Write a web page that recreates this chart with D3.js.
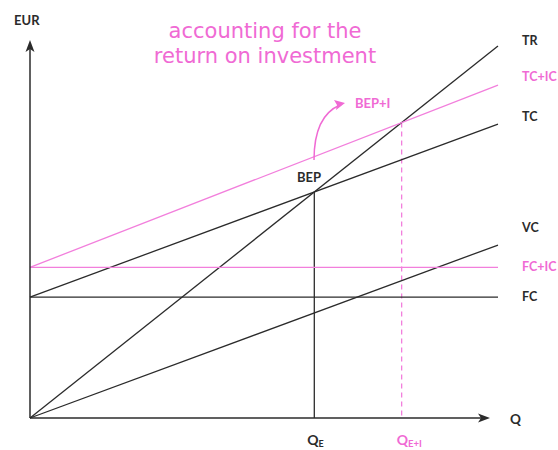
<!DOCTYPE html>
<html>
<head>
<meta charset="utf-8">
<script src="https://cdn.jsdelivr.net/npm/d3@7"></script>
<style>
  html, body { margin: 0; padding: 0; background: #fff; }
  svg { display: block; }
</style>
</head>
<body>
<svg id="chart" width="558" height="450"></svg>
<script>
// Quantity domain shared by every line (start and end of each segment)
const qPoints = [0, 10];
// EUR values at q = 0 and q = 10
const trValues   = [0, 100];
const tcValues   = [32.5, 79];
const tcIcValues = [40.5, 89.5];
const vcValues   = [0, 46.5];
const fcValues   = [32.5, 32.5];
const fcIcValues = [40.5, 40.5];
// Right-hand line labels
const lineNames  = ["TR", "TC+IC", "TC", "VC", "FC+IC", "FC"];
const titleLines = ["accounting for the", "return on investment"];

const PINK = "#f06ad4";
const PINK_LINE = "#f27fdc";
const DARK = "#2b2b2b";

const svg = d3.select("#chart");
const x = d3.scaleLinear().domain([0, 10]).range([30, 498]);
const y = d3.scaleLinear().domain([0, 100]).range([418, 46]);

const lineValues = [trValues, tcIcValues, tcValues, vcValues, fcIcValues, fcValues];
const pinkLines = new Set(["TC+IC", "FC+IC"]);
const series = lineNames.map((name, i) => ({
  name: name,
  vals: lineValues[i],
  color: pinkLines.has(name) ? PINK_LINE : DARK,
  label: pinkLines.has(name) ? PINK : DARK
}));

// Intersection of two linear series
function intersect(a, b) {
  const sa = (a[1] - a[0]) / (qPoints[1] - qPoints[0]);
  const sb = (b[1] - b[0]) / (qPoints[1] - qPoints[0]);
  const q = (b[0] - a[0]) / (sa - sb);
  return { q: q, v: a[0] + sa * q };
}
const bep = intersect(trValues, tcValues);
const bepI = intersect(trValues, tcIcValues);

// Guide lines down to the quantity axis
svg.append("line")
  .attr("x1", x(bep.q)).attr("x2", x(bep.q))
  .attr("y1", y(bep.v)).attr("y2", y(0))
  .attr("stroke", DARK).attr("stroke-width", 1.3);
svg.append("line")
  .attr("x1", x(bepI.q)).attr("x2", x(bepI.q))
  .attr("y1", y(bepI.v)).attr("y2", y(0))
  .attr("stroke", PINK_LINE).attr("stroke-width", 1.3)
  .attr("stroke-dasharray", "5,4");

// Cost and revenue lines
const lineGen = d3.line().x((d, i) => x(qPoints[i])).y(d => y(d));
svg.selectAll("path.series")
  .data(series)
  .join("path")
  .attr("class", "series")
  .attr("d", d => lineGen(d.vals))
  .attr("fill", "none")
  .attr("stroke", d => d.color)
  .attr("stroke-width", 1.3);

// Axes with arrowheads
const ax = svg.append("g").attr("stroke", DARK).attr("stroke-width", 1.5);
ax.append("line").attr("x1", x(0)).attr("x2", 486).attr("y1", y(0)).attr("y2", y(0));
ax.append("line").attr("x1", x(0)).attr("x2", x(0)).attr("y1", y(0)).attr("y2", 44);
svg.append("path")
  .attr("d", `M490,${y(0)} L478,${y(0) - 4.5} L481,${y(0)} L478,${y(0) + 4.5} Z`)
  .attr("fill", DARK);
svg.append("path")
  .attr("d", `M${x(0)},40 L${x(0) - 4.5},52 L${x(0)},49 L${x(0) + 4.5},52 Z`)
  .attr("fill", DARK);

const labelFont = "Lato, 'Open Sans', sans-serif";

// Axis names
svg.append("text").attr("x", 14).attr("y", 25).text("EUR")
  .attr("font-family", labelFont).attr("font-weight", 700).attr("font-size", 13).attr("fill", DARK);
svg.append("text").attr("x", 510).attr("y", 424).text("Q")
  .attr("font-family", labelFont).attr("font-weight", 700).attr("font-size", 13.5).attr("fill", DARK);

// Right-hand labels
const labelOffsets = { "TR": -1, "TC+IC": -4, "TC": -3, "VC": -13, "FC+IC": 4, "FC": 4 };
svg.selectAll("text.name")
  .data(series)
  .join("text")
  .attr("class", "name")
  .attr("x", 522)
  .attr("y", d => y(d.vals[1]) + labelOffsets[d.name])
  .attr("font-family", labelFont).attr("font-weight", 700).attr("font-size", 12.5)
  .attr("fill", d => d.label)
  .text(d => d.name);

// Break-even labels
svg.append("text").attr("x", 297).attr("y", 182).text("BEP")
  .attr("font-family", labelFont).attr("font-weight", 700).attr("font-size", 13).attr("fill", DARK);
svg.append("text").attr("x", 355).attr("y", 108).text("BEP+I")
  .attr("font-family", labelFont).attr("font-weight", 700).attr("font-size", 13).attr("fill", PINK);

// Curved arrow from BEP towards BEP+I
svg.append("path")
  .attr("d", "M314,160 Q314,116 340,105")
  .attr("fill", "none").attr("stroke", PINK).attr("stroke-width", 1.5);
svg.append("path")
  .attr("d", "M345,103 L334,100 L337,105 L336,110 Z")
  .attr("fill", PINK);

// Quantity markers
const qe = svg.append("text").attr("x", x(bep.q) - 7).attr("y", 445)
  .attr("font-family", labelFont).attr("font-weight", 700).attr("font-size", 14).attr("fill", DARK);
qe.append("tspan").text("Q");
qe.append("tspan").attr("font-size", 9).attr("dy", 2).text("E");
const qei = svg.append("text").attr("x", x(bepI.q) - 5).attr("y", 445)
  .attr("font-family", labelFont).attr("font-weight", 700).attr("font-size", 14).attr("fill", PINK);
qei.append("tspan").text("Q");
qei.append("tspan").attr("font-size", 9.5).attr("dy", 2).text("E+I");

// Title
svg.append("text")
  .attr("text-anchor", "middle")
  .attr("font-family", "'DejaVu Sans', Verdana, sans-serif")
  .attr("font-size", 21)
  .attr("fill", PINK)
  .selectAll("tspan")
  .data(titleLines)
  .join("tspan")
  .attr("x", 265)
  .attr("y", (d, i) => 38 + i * 25)
  .text(d => d);
</script>
</body>
</html>
